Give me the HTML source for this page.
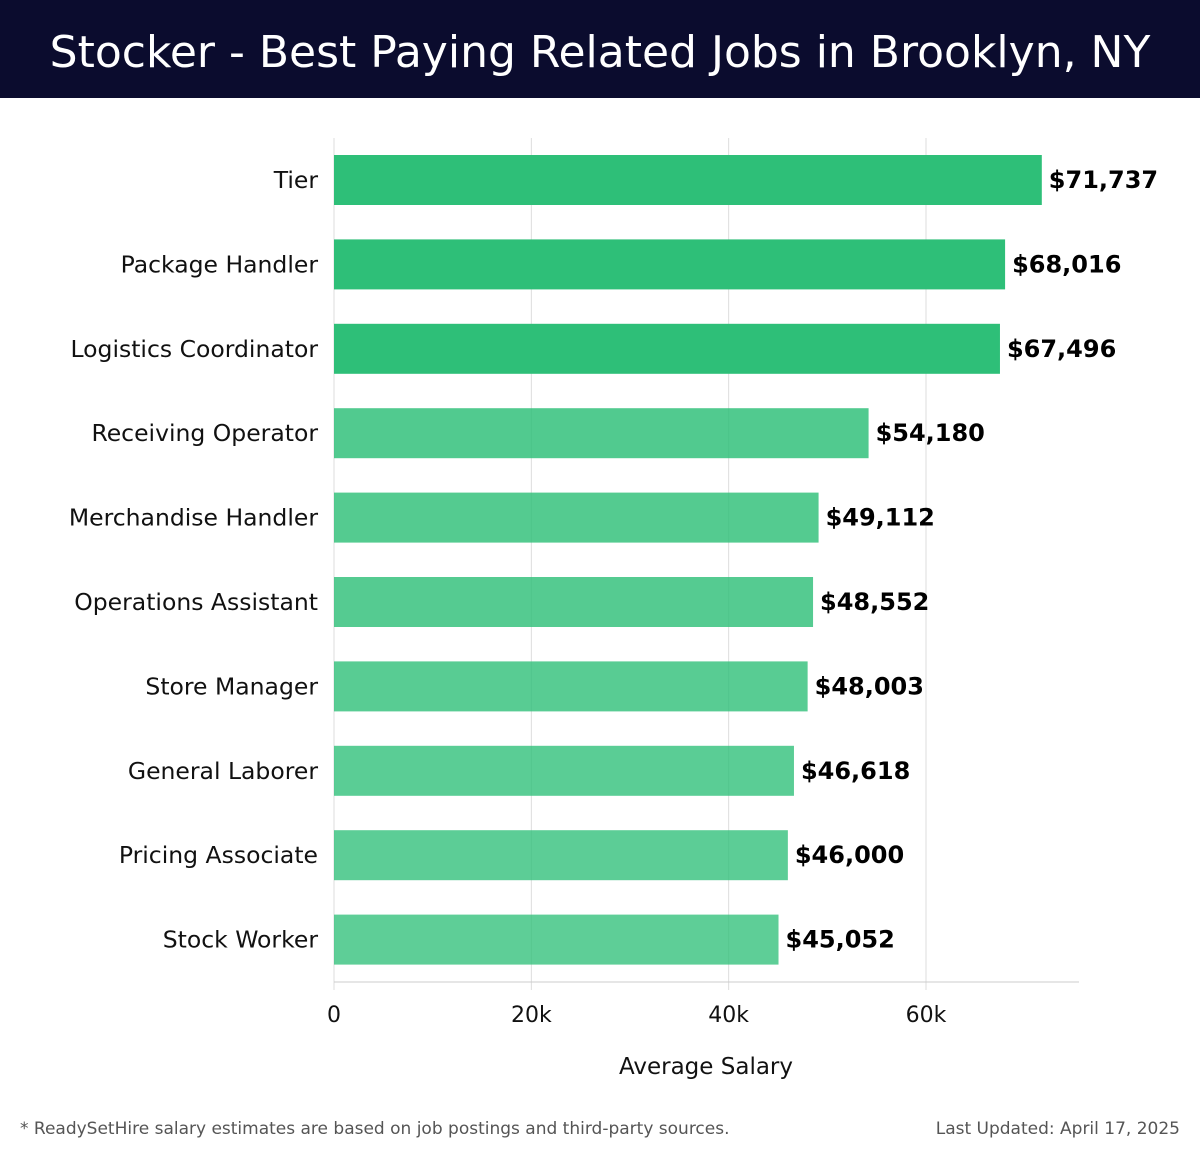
<!DOCTYPE html>
<html><head><meta charset="utf-8"><style>
body{margin:0;width:1200px;height:1158px;background:#fff;font-family:"DejaVu Sans","Liberation Sans",sans-serif;overflow:hidden;position:relative}
#hdr{position:absolute;left:0;top:0;width:1200px;height:98px;background:#0b0c2e;color:#fff;font-family:"DejaVu Sans","Liberation Sans",sans-serif;font-size:44px;text-align:center;line-height:106px;letter-spacing:0px}
.foot{position:absolute;top:1119px;font-size:17px;color:#555}
</style></head><body>
<div id="hdr">Stocker - Best Paying Related Jobs in Brooklyn, NY</div>
<svg id="chart" width="1200" height="1158" style="position:absolute;left:0;top:0"></svg>
<div class="foot" style="left:20px">* ReadySetHire salary estimates are based on job postings and third-party sources.</div>
<div class="foot" style="right:20px">Last Updated: April 17, 2025</div>
<script>
const categories=["Tier","Package Handler","Logistics Coordinator","Receiving Operator","Merchandise Handler","Operations Assistant","Store Manager","General Laborer","Pricing Associate","Stock Worker"];
const values=[71737,68016,67496,54180,49112,48552,48003,46618,46000,45052];
const valueLabels=["$71,737","$68,016","$67,496","$54,180","$49,112","$48,552","$48,003","$46,618","$46,000","$45,052"];
const ticks=[0,20000,40000,60000];
const tickLabels=["0","20k","40k","60k"];
const svg=document.getElementById('chart');
const NS='http://www.w3.org/2000/svg';
const x0=334,pxPer=(926-334)/60000,top0=138,bottom=982,step=84.4;
const x=v=>x0+v*pxPer;
const y=i=>top0+17+i*step;
function mk(t,a){const e=document.createElementNS(NS,t);for(const k in a)e.setAttribute(k,a[k]);svg.appendChild(e);return e;}
ticks.forEach((t,i)=>{
 const g=mk('line',{x1:x(t),x2:x(t),y1:top0,y2:bottom+8,stroke:'#ddd','stroke-width':1});
 
 
 const tl=mk('text',{x:x(t),y:1022,'text-anchor':'middle','font-size':22,fill:'#111'});
 tl.textContent=tickLabels[i];
 
 
});
const ax=mk('line',{x1:x0,x2:1079,y1:bottom,y2:bottom,stroke:'#ccc','stroke-width':1});


categories.forEach((c,i)=>{
 const b=mk('rect',{x:x0,y:y(i),width:x(values[i])-x0,height:50,fill:i<3?'#2ebf78':'rgba(46,191,120,'+(0.86-i*0.01)+')'});
 
 
 const l=mk('text',{x:318,y:y(i)+33,'text-anchor':'end','font-size':23.5,fill:'#111'});
 l.textContent=c;
 
 
 const v=mk('text',{x:x(values[i])+7,y:y(i)+33,'font-size':24,'font-weight':'bold',fill:'#000'});
 v.textContent=valueLabels[i];
 
 
});
const xt=mk('text',{x:706,y:1074,'text-anchor':'middle','font-size':23,fill:'#111'});
xt.textContent='Average Salary';


</script>
</body></html>
